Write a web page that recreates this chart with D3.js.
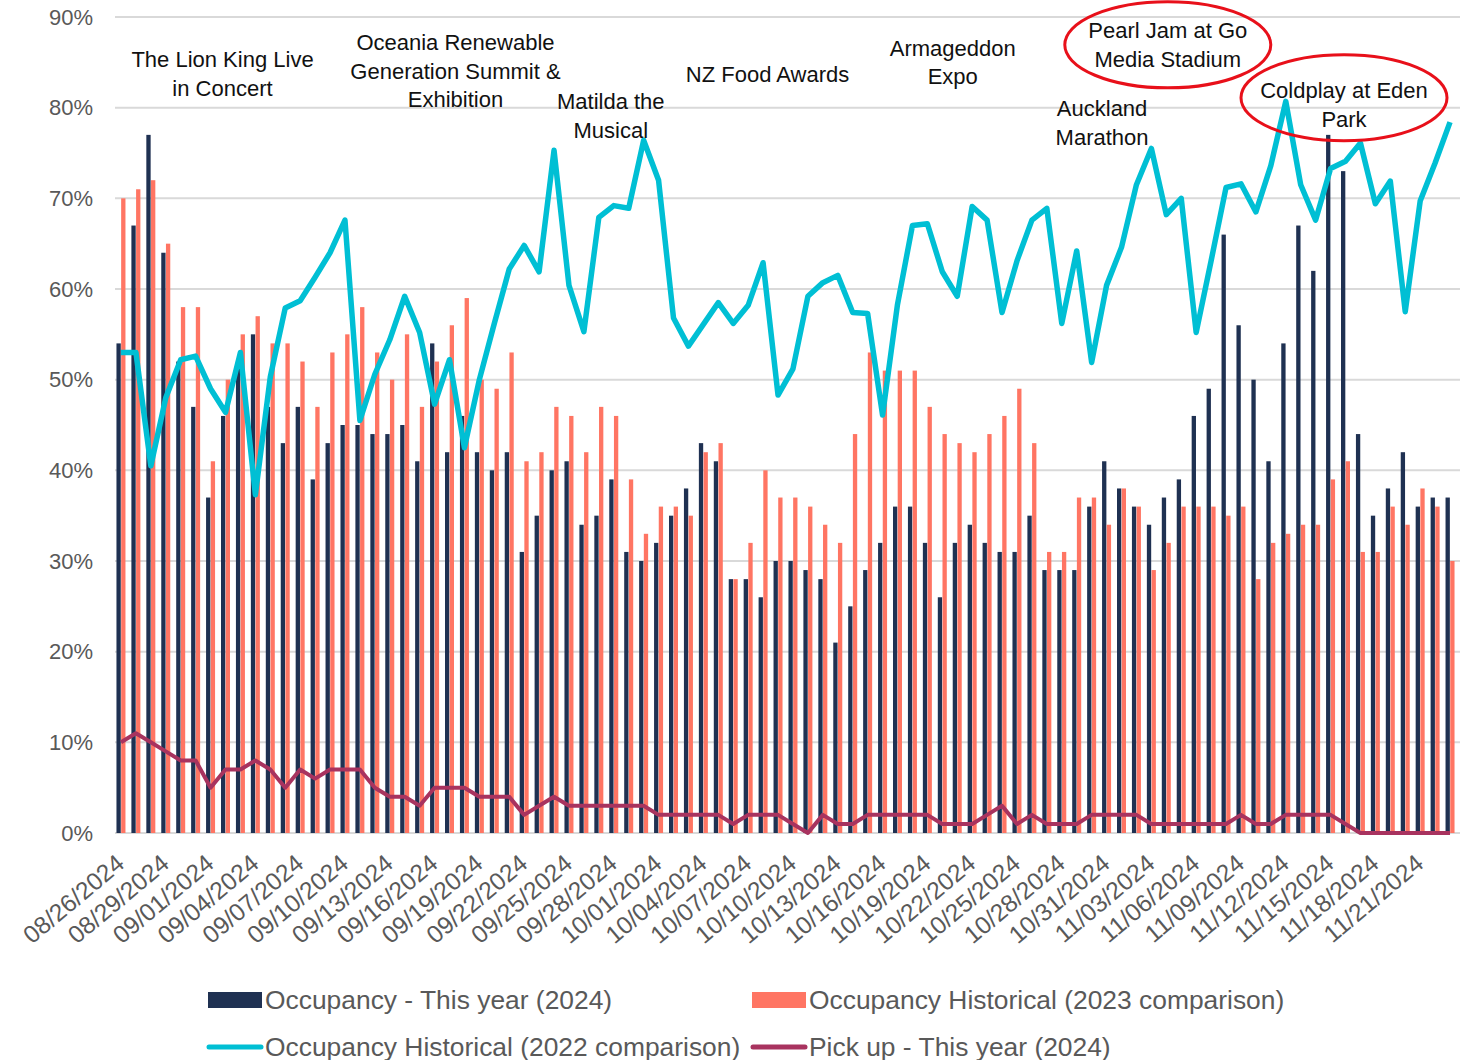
<!DOCTYPE html>
<html>
<head>
<meta charset="utf-8">
<script src="https://cdn.jsdelivr.net/npm/d3@7"></script>
<style>
  body { margin: 0; background: #fff; }
  svg text { font-family: "Liberation Sans", Arial, sans-serif; }
</style>
</head>
<body>
<div id="chart"></div>
<script>
// dates: 90 days from 08/26/2024 to 11/23/2024
var startDate = new Date(2024, 7, 26);
var endDate = new Date(2024, 10, 24);
var dates = d3.timeDay.range(startDate, endDate);
var fmt = d3.timeFormat("%m/%d/%Y");

// Occupancy - This year (2024)
var occ2024 = [54, 67, 77, 64, 52, 47, 37, 46, 52, 55,
               47, 43, 47, 39, 43, 45, 45, 44, 44, 45,
               41, 54, 42, 46, 42, 40, 42, 31, 35, 40,
               41, 34, 35, 39, 31, 30, 32, 35, 38, 43,
               41, 28, 28, 26, 30, 30, 29, 28, 21, 25,
               29, 32, 36, 36, 32, 26, 32, 34, 32, 31,
               31, 35, 29, 29, 29, 36, 41, 38, 36, 34,
               37, 39, 46, 49, 66, 56, 50, 41, 54, 67,
               62, 77, 73, 44, 35, 38, 42, 36, 37, 37];

// Occupancy Historical (2023 comparison)
var occ2023 = [70, 71, 72, 65, 58, 58, 41, 50, 55, 57,
               54, 54, 52, 47, 53, 55, 58, 53, 50, 55,
               47, 52, 56, 59, 50, 49, 53, 41, 42, 47,
               46, 42, 47, 46, 39, 33, 36, 36, 35, 42,
               43, 28, 32, 40, 37, 37, 36, 34, 32, 44,
               53, 51, 51, 51, 47, 44, 43, 42, 44, 46,
               49, 43, 31, 31, 37, 37, 34, 38, 36, 29,
               32, 36, 36, 36, 35, 36, 28, 32, 33, 34,
               34, 39, 41, 31, 31, 36, 34, 38, 36, 30];

// Occupancy Historical (2022 comparison)
var occ2022 = [53, 53, 40.5, 48, 52.2, 52.6, 49, 46.4, 53, 37.3,
               50.3, 57.9, 58.7, 61.3, 64, 67.6, 45.5, 50.6, 54.4, 59.2,
               55.2, 47.3, 52.2, 42.5, 50, 56.2, 62.2, 64.8, 61.9, 75.3,
               60.4, 55.3, 67.9, 69.2, 68.9, 76.4, 72, 56.8, 53.7, 56.1,
               58.5, 56.2, 58.2, 62.9, 48.3, 51.2, 59.2, 60.7, 61.5, 57.4,
               57.3, 46.1, 58.3, 67, 67.2, 61.9, 59.2, 69.1, 67.6, 57.4,
               63.1, 67.6, 68.9, 56.2, 64.2, 51.9, 60.4, 64.6, 71.5, 75.5,
               68.2, 70, 55.2, 63.1, 71.2, 71.6, 68.5, 73.6, 80.7, 71.5,
               67.6, 73.3, 74.1, 76.1, 69.4, 71.9, 57.5, 69.7, 73.9, 78.4];

// Pick up - This year (2024)
var pickup = [10, 11, 10, 9, 8, 8, 5, 7, 7, 8,
              7, 5, 7, 6, 7, 7, 7, 5, 4, 4,
              3, 5, 5, 5, 4, 4, 4, 2, 3, 4,
              3, 3, 3, 3, 3, 3, 2, 2, 2, 2,
              2, 1, 2, 2, 2, 1, 0, 2, 1, 1,
              2, 2, 2, 2, 2, 1, 1, 1, 2, 3,
              1, 2, 1, 1, 1, 2, 2, 2, 2, 1,
              1, 1, 1, 1, 1, 2, 1, 1, 2, 2,
              2, 2, 1, 0, 0, 0, 0, 0, 0, 0];

var yTicks = [0, 10, 20, 30, 40, 50, 60, 70, 80, 90];

// event notes: day = index into dates (fractional = between days), level = % of first line
var notes = [
  {lines: ["The Lion King Live", "in Concert"], day: 6.8, level: 85.3, ring: false},
  {lines: ["Oceania Renewable", "Generation Summit &", "Exhibition"], day: 22.4, level: 87.2, ring: false},
  {lines: ["Matilda the", "Musical"], day: 32.8, level: 80.7, ring: false},
  {lines: ["NZ Food Awards"], day: 43.3, level: 83.7, ring: false},
  {lines: ["Armageddon", "Expo"], day: 55.7, level: 86.6, ring: false},
  {lines: ["Pearl Jam at Go", "Media Stadium"], day: 70.1, level: 88.5, ring: true, ringDy: 0},
  {lines: ["Auckland", "Marathon"], day: 65.7, level: 79.9, ring: false},
  {lines: ["Coldplay at Eden", "Park"], day: 81.9, level: 81.9, ring: true, ringDy: -7}
];

var legendItems = [
  {name: "Occupancy - This year (2024)", type: "bar", color: "#1f3152"},
  {name: "Occupancy Historical (2023 comparison)", type: "bar", color: "#ff7563"},
  {name: "Occupancy Historical (2022 comparison)", type: "line", color: "#00bfd4"},
  {name: "Pick up - This year (2024)", type: "line", color: "#a8335f"}
];

var width = 1468, height = 1060;
var plotLeft = 113.5, plotRight = 1457.5, plotTop = 17, plotBottom = 833;

var svg = d3.select("#chart").append("svg")
    .attr("width", width)
    .attr("height", height);

var x = d3.scaleBand()
    .domain(dates.map(function(d) { return fmt(d); }))
    .range([plotLeft, plotRight])
    .padding(0);

function cx(i) { return x(fmt(dates[i])) + x.bandwidth() / 2; }

var xDay = d3.scaleLinear()
    .domain([0, dates.length - 1])
    .range([cx(0), cx(dates.length - 1)]);

var inner = d3.scaleBand()
    .domain(["y2024", "y2023"])
    .range([-4.5, 4.5])
    .paddingInner(0.08);

var y = d3.scaleLinear()
    .domain([0, 90])
    .range([plotBottom, plotTop]);

// gridlines
svg.append("g").selectAll("line")
    .data(yTicks)
    .enter()
    .append("line")
    .attr("x1", 115)
    .attr("x2", 1460)
    .attr("y1", function(d) { return y(d); })
    .attr("y2", function(d) { return y(d); })
    .attr("stroke", "#d9d9d9")
    .attr("stroke-width", 2);

// y axis labels
var yAxis = d3.axisLeft(y).tickValues(yTicks).tickSize(0).tickPadding(0)
    .tickFormat(function(d) { return d + "%"; });
var ya = svg.append("g").attr("transform", "translate(93,0)").call(yAxis);
ya.select(".domain").remove();
ya.selectAll("text")
    .attr("font-size", "22px")
    .attr("fill", "#595959")
    .style("font-family", "'Liberation Sans', Arial, sans-serif");

// bars
svg.append("g").selectAll("rect")
    .data(occ2024)
    .enter()
    .append("rect")
    .attr("x", function(d, i) { return cx(i) + inner("y2024"); })
    .attr("width", inner.bandwidth())
    .attr("y", function(d) { return y(d); })
    .attr("height", function(d) { return plotBottom - y(d); })
    .attr("fill", legendItems[0].color);

svg.append("g").selectAll("rect")
    .data(occ2023)
    .enter()
    .append("rect")
    .attr("x", function(d, i) { return cx(i) + inner("y2023"); })
    .attr("width", inner.bandwidth())
    .attr("y", function(d) { return y(d); })
    .attr("height", function(d) { return plotBottom - y(d); })
    .attr("fill", legendItems[1].color);

// lines
var line = d3.line()
    .x(function(d, i) { return cx(i); })
    .y(function(d) { return y(d); });

svg.append("path")
    .datum(occ2022)
    .attr("d", line)
    .attr("fill", "none")
    .attr("stroke", legendItems[2].color)
    .attr("stroke-width", 5.5)
    .attr("stroke-linejoin", "round");

svg.append("path")
    .datum(pickup)
    .attr("d", line)
    .attr("fill", "none")
    .attr("stroke", legendItems[3].color)
    .attr("stroke-width", 4)
    .attr("stroke-linejoin", "round");

// x axis labels, every third day
var xAxis = d3.axisBottom(x)
    .tickValues(dates.filter(function(d, i) { return i % 3 == 0; }).map(function(d) { return fmt(d); }))
    .tickSize(0)
    .tickPadding(0);
var xa = svg.append("g").attr("transform", "translate(0," + plotBottom + ")").call(xAxis);
xa.select(".domain").remove();
xa.selectAll("text")
    .attr("y", 0)
    .attr("dy", 0)
    .attr("text-anchor", "end")
    .attr("transform", "translate(5,33) rotate(-40)")
    .attr("font-size", "24.5px")
    .attr("fill", "#595959")
    .style("font-family", "'Liberation Sans', Arial, sans-serif");

// notes
var lineGap = 28.5;
var noteG = svg.append("g").selectAll("g")
    .data(notes)
    .enter()
    .append("g");

noteG.each(function(n) {
  var g = d3.select(this);
  n.lines.forEach(function(t, k) {
    g.append("text")
      .attr("x", xDay(n.day))
      .attr("y", y(n.level) + k * lineGap)
      .attr("dy", "0.35em")
      .attr("text-anchor", "middle")
      .attr("font-size", "22px")
      .attr("fill", "#111")
      .text(t);
  });
  if (n.ring) {
    g.append("ellipse")
      .attr("cx", xDay(n.day))
      .attr("cy", y(n.level) + lineGap / 2 + n.ringDy)
      .attr("rx", 103)
      .attr("ry", 43)
      .attr("fill", "none")
      .attr("stroke", "#e8101a")
      .attr("stroke-width", 3);
  }
});

// legend
var legPos = [[208, 1000], [752, 1000], [208, 1047], [752, 1047]];
var leg = svg.append("g").selectAll("g")
    .data(legendItems)
    .enter()
    .append("g")
    .attr("transform", function(d, i) { return "translate(" + legPos[i][0] + "," + legPos[i][1] + ")"; });

leg.each(function(d) {
  var g = d3.select(this);
  if (d.type == "bar") {
    g.append("rect").attr("x", 0).attr("y", -8).attr("width", 54).attr("height", 16).attr("fill", d.color);
  } else {
    g.append("line").attr("x1", 1).attr("x2", 53).attr("y1", 0).attr("y2", 0)
      .attr("stroke", d.color).attr("stroke-width", 5).attr("stroke-linecap", "round");
  }
  g.append("text")
    .attr("x", 57)
    .attr("y", 0)
    .attr("dy", "0.35em")
    .attr("font-size", "26.4px")
    .attr("fill", "#595959")
    .text(d.name);
});
</script>
</body>
</html>
